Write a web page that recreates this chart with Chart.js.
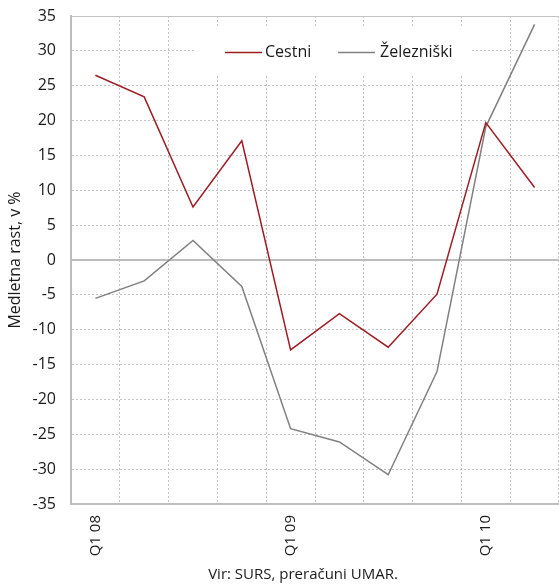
<!DOCTYPE html>
<html>
<head>
<meta charset="utf-8">
<script src="https://cdn.jsdelivr.net/npm/chart.js@4.4.0/dist/chart.umd.min.js"></script>
<style>
  html, body { margin: 0; padding: 0; background: #fff; }
  #wrap { position: relative; width: 559px; height: 586px; }
</style>
</head>
<body>
<div id="wrap"><canvas id="chart" width="559" height="586"></canvas></div>
<script>
const quarters = ["Q1 08", "", "", "", "Q1 09", "", "", "", "Q1 10", ""];
const cestni = [26.5, 23.4, 7.6, 17.1, -12.9, -7.7, -12.5, -4.9, 19.7, 10.4];
const zelezniski = [-5.5, -3.0, 2.8, -3.8, -24.2, -26.1, -30.8, -16.0, 19.1, 33.8];
const seriesNames = ["Cestni", "Železniški"];
const seriesColors = ["#a01c24", "#808080"];
const yTitle = "Medletna rast, v %";
const sourceNote = "Vir: SURS, preračuni UMAR.";

const FONT = "'Open Sans', sans-serif";

// white legend box inside plot + source line below
const extras = {
  id: "extras",
  beforeDatasetsDraw(chart) {
    const ctx = chart.ctx;
    ctx.save();
    ctx.fillStyle = "#fff";
    ctx.fillRect(196, 28, 275, 48);
    ctx.font = "16px " + FONT;
    ctx.textBaseline = "middle";
    const items = [
      { x1: 225, x2: 262, tx: 265 },
      { x1: 338, x2: 375, tx: 380 }
    ];
    items.forEach((it, i) => {
      ctx.strokeStyle = seriesColors[i];
      ctx.lineWidth = 1.5;
      ctx.beginPath();
      ctx.moveTo(it.x1, 52.5);
      ctx.lineTo(it.x2, 52.5);
      ctx.stroke();
      ctx.fillStyle = "#1a1a1a";
      ctx.fillText(seriesNames[i], it.tx, 52);
    });
    ctx.restore();
  },
  afterDraw(chart) {
    const ctx = chart.ctx;
    ctx.save();
    ctx.font = "15px " + FONT;
    ctx.fillStyle = "#1a1a1a";
    ctx.textAlign = "center";
    ctx.textBaseline = "middle";
    ctx.fillText(sourceNote, 303, 575);
    ctx.restore();
  }
};

new Chart(document.getElementById("chart"), {
  type: "line",
  data: {
    labels: quarters,
    datasets: [
      { label: seriesNames[0], data: cestni, borderColor: seriesColors[0], borderWidth: 1.5, pointRadius: 0, tension: 0, fill: false },
      { label: seriesNames[1], data: zelezniski, borderColor: seriesColors[1], borderWidth: 1.5, pointRadius: 0, tension: 0, fill: false }
    ]
  },
  options: {
    responsive: false,
    animation: false,
    layout: { padding: { top: 16, left: 0, right: 0, bottom: 0 } },
    plugins: { legend: { display: false }, tooltip: { enabled: false } },
    scales: {
      x: {
        offset: true,
        grid: { offset: true, color: "#c4c4c4", lineWidth: 1, drawTicks: false },
        border: { display: true, color: "#bdbdbd", width: 2, dash: [2, 2] },
        ticks: {
          autoSkip: false, maxRotation: 90, minRotation: 90, padding: 11,
          color: "#1a1a1a", font: { family: FONT, size: 15 }
        },
        afterFit(scale) { scale.height = 82; scale.paddingLeft = 0; scale.paddingRight = 0; }
      },
      y: {
        min: -35, max: 35,
        ticks: { stepSize: 5, padding: 15, color: "#1a1a1a", font: { family: FONT, size: 16 } },
        grid: {
          drawTicks: false,
          color: c => (c.tick && c.tick.value === 0) ? "#bdbdbd" : "#c4c4c4",
          lineWidth: c => (c.tick && c.tick.value === 0) ? 2 : 1
        },
        border: {
          display: true, color: "#bdbdbd", width: 2,
          dash: c => (c.tick && (c.tick.value === 0 || c.tick.value === 35)) ? [] : [2, 2]
        },
        title: { display: true, text: yTitle, color: "#1a1a1a", font: { family: FONT, size: 16 }, padding: { top: 6, bottom: 0 } },
        afterFit(scale) { scale.width = 71; scale.paddingTop = 0; scale.paddingBottom = 0; }
      }
    }
  },
  plugins: [extras]
});
</script>
</body>
</html>
